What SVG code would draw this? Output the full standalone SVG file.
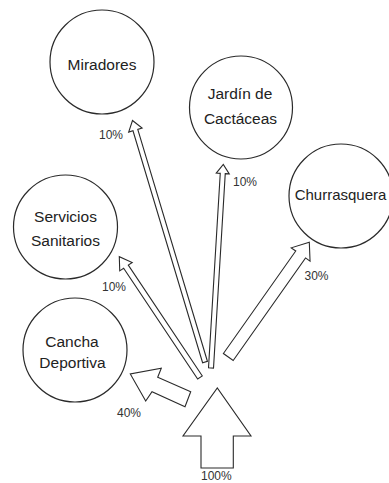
<svg xmlns="http://www.w3.org/2000/svg" width="389" height="483" viewBox="0 0 389 483">
<style>
.node circle{fill:#fff;stroke:#2a2a2a;stroke-width:1.2}
.lbl{font-family:"Liberation Sans",Arial,sans-serif;font-size:15.5px;fill:#222;text-anchor:middle}
.pct{font-family:"Liberation Sans",Arial,sans-serif;font-size:12px;fill:#333}
.arrow{fill:#fff;stroke:#2a2a2a;stroke-width:1.1;stroke-linejoin:miter}
</style>
<rect width="389" height="483" fill="#fff"/>
<g id="miradores" class="node">
<circle cx="102" cy="62" r="52"/>
<text class="lbl" x="102" y="70">Miradores</text>
</g>
<g id="jardin" class="node">
<circle cx="241" cy="107.5" r="51.5"/>
<text class="lbl" x="240" y="99">Jardín de</text>
<text class="lbl" x="240.5" y="124">Cactáceas</text>
</g>
<g id="churrasquera" class="node">
<circle cx="341" cy="196" r="52"/>
<text class="lbl" x="340.5" y="200" style="font-size:15px">Churrasquera</text>
</g>
<g id="servicios" class="node">
<circle cx="65.5" cy="227" r="52"/>
<text class="lbl" x="65.5" y="221.5">Servicios</text>
<text class="lbl" x="65.5" y="246">Sanitarios</text>
</g>
<g id="cancha" class="node">
<circle cx="75" cy="350" r="52"/>
<text class="lbl" x="72" y="346.5">Cancha</text>
<text class="lbl" x="72.5" y="367.5">Deportiva</text>
</g>
<g id="connectors">
<polygon class="arrow" points="201,468 201,436 183,436 217.3,388 251,436 233.3,436 233.3,468"/>
<polygon class="arrow" points="190.7,391.7 157.7,377.3 161.3,368.3 130.3,374 145.7,401 152,391.7 185,406.7"/>
<polygon class="arrow" points="202.33,375.94 128.3,265.12 132.2,262.51 119.3,256.7 119.73,270.84 123.64,268.24 197.67,379.06"/>
<polygon class="arrow" points="207.4,361.28 137.77,129.36 142.09,128.07 132.5,120.5 128.67,132.09 132.98,130.8 202.61,362.72"/>
<polygon class="arrow" points="213.5,368.15 225.25,173.63 229.25,173.87 223.3,164.5 216.27,173.09 220.26,173.33 208.5,367.85"/>
<polygon class="arrow" points="233.2,360.46 305.55,257.92 310.05,261.09 309.3,242.2 291.25,247.83 295.75,251 223.4,353.54"/>
<text class="pct" x="99" y="138.5">10%</text>
<text class="pct" x="233" y="186">10%</text>
<text class="pct" x="102" y="291">10%</text>
<text class="pct" x="304.5" y="280">30%</text>
<text class="pct" x="117" y="417">40%</text>
<text class="pct" x="201" y="479.5">100%</text>
</g>
</svg>
